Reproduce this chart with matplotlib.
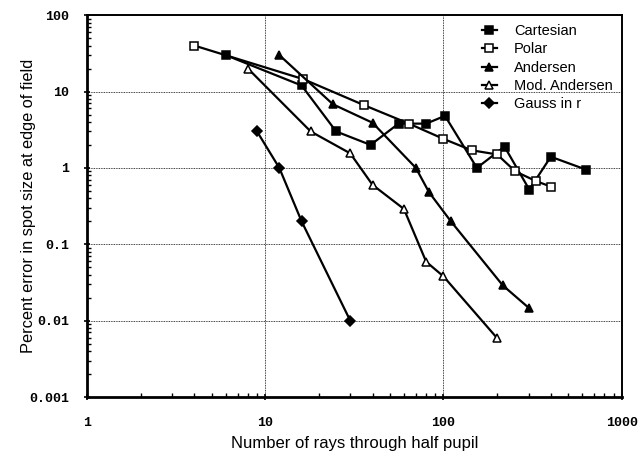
import matplotlib
matplotlib.use("Agg")
import matplotlib.pyplot as plt
from matplotlib.ticker import LogLocator, FixedLocator, NullFormatter
from matplotlib.font_manager import FontProperties

# --- datos ---
cart_x = [6, 16, 25, 39, 56, 80, 102, 154, 220, 303, 400, 630]
cart_y = [30, 12, 3.0, 2.0, 3.8, 3.8, 4.8, 1.0, 1.9, 0.52, 1.4, 0.95]

polar_x = [4, 16.4, 36, 64, 100, 144, 200, 253, 331, 400]
polar_y = [40, 14.5, 6.6, 3.8, 2.4, 1.7, 1.5, 0.9, 0.67, 0.57]

and_x = [12, 24, 40, 70, 83, 110, 215, 303]
and_y = [30, 6.8, 3.9, 1.0, 0.48, 0.2, 0.029, 0.0145]

modand_x = [8, 18, 30, 40, 60, 80, 100, 200]
modand_y = [20, 3.0, 1.55, 0.6, 0.29, 0.059, 0.038, 0.0059]

gauss_x = [9, 12, 16, 30]
gauss_y = [3.0, 1.0, 0.2, 0.01]

x_ticks = [1, 10, 100, 1000]
x_labels = ["1", "10", "100", "1000"]
y_ticks = [0.001, 0.01, 0.1, 1, 10, 100]
y_labels = ["0.001", "0.01", "0.1", "1", "10", "100"]

fig = plt.figure(figsize=(6.39, 4.59), dpi=100)
ax = fig.add_axes([0.136, 0.135, 0.837, 0.832])

estilo = dict(color="black", lw=1.6, markersize=5.2, markeredgewidth=1.1, markeredgecolor="black")
ax.plot(cart_x, cart_y, marker="s", markerfacecolor="black", label="Cartesian", **estilo)
ax.plot(polar_x, polar_y, marker="s", markerfacecolor="white", label="Polar", **estilo)
ax.plot(and_x, and_y, marker="^", markerfacecolor="black", label="Andersen",
        **{**estilo, "markersize": 6})
ax.plot(modand_x, modand_y, marker="^", markerfacecolor="white", label="Mod. Andersen",
        **{**estilo, "markersize": 6})
ax.plot(gauss_x, gauss_y, marker="D", markerfacecolor="black", label="Gauss in r",
        **{**estilo, "markersize": 4.8})

ax.set_xscale("log")
ax.set_yscale("log")
ax.set_xlim(1, 1000)
ax.set_ylim(0.001, 100)

ax.xaxis.set_major_locator(FixedLocator(x_ticks))
ax.yaxis.set_major_locator(FixedLocator(y_ticks))
ax.set_xticklabels(x_labels)
ax.set_yticklabels(y_labels)
ax.xaxis.set_minor_locator(LogLocator(base=10, subs=range(2, 10)))
ax.yaxis.set_minor_locator(LogLocator(base=10, subs=range(2, 10)))
ax.xaxis.set_minor_formatter(NullFormatter())
ax.yaxis.set_minor_formatter(NullFormatter())

mono = FontProperties(family="Liberation Mono", weight="bold", size=9.5)
for lab in ax.get_xticklabels() + ax.get_yticklabels():
    lab.set_fontproperties(mono)

ax.tick_params(which="major", direction="inout", length=5, width=1.2)
ax.tick_params(which="minor", direction="in", length=3, width=1.0)
ax.tick_params(axis="y", which="major", pad=10)
ax.tick_params(axis="x", which="major", pad=12)

ax.grid(True, which="major", ls=(0, (1, 1)), color="black", lw=0.6)

for lado in ["left", "bottom"]:
    ax.spines[lado].set_linewidth(2.0)
for lado in ["top", "right"]:
    ax.spines[lado].set_linewidth(1.4)

ax.set_xlabel("Number of rays through half pupil", family="Liberation Sans", size=12, labelpad=5)
ax.set_ylabel("Percent error in spot size at edge of field", family="Liberation Sans", size=11.8, labelpad=-5)

ax.legend(loc="upper right", frameon=False, prop=dict(family="Liberation Sans", size=10.5),
          handlelength=1.0, handletextpad=1.2, labelspacing=0.3, borderaxespad=0.2,
          bbox_to_anchor=(1.0, 1.0))

fig.savefig("out.png", dpi=100)
